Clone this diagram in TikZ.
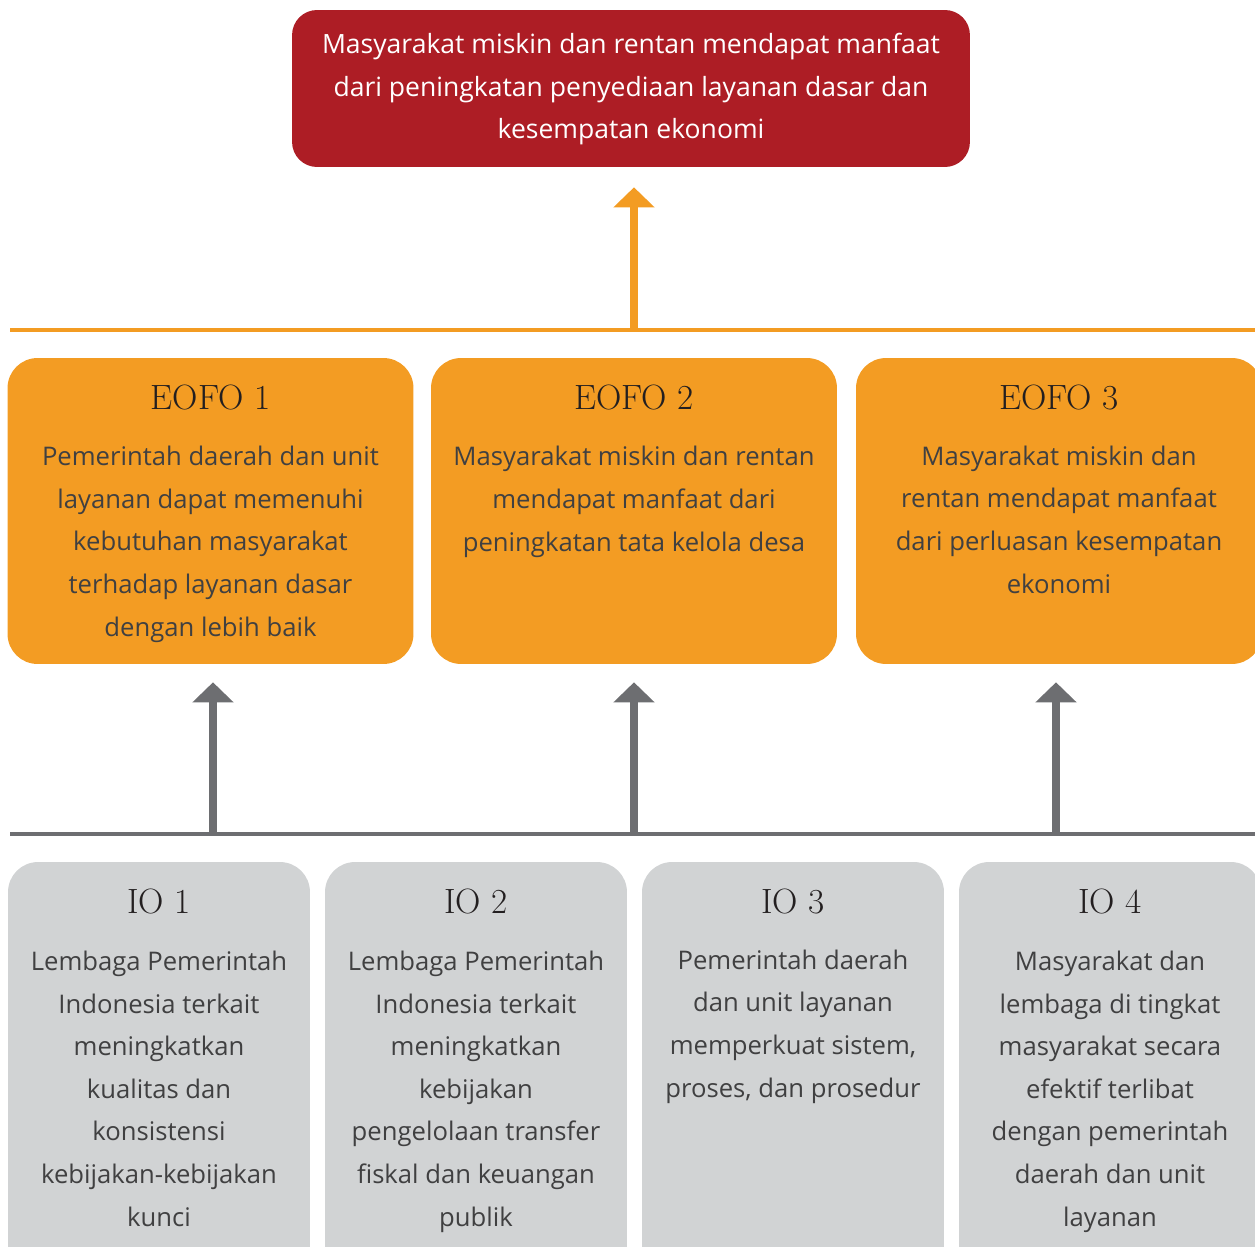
\documentclass[tikz,border=0pt]{standalone}
\usepackage{fontspec}
\setsansfont{Open Sans}
\usepackage{tikz}
\usetikzlibrary{arrows.meta}
\definecolor{goalred}{RGB}{173,29,37}
\definecolor{eofoorange}{RGB}{243,156,35}
\definecolor{iogrey}{RGB}{209,211,212}
\definecolor{arrowgrey}{RGB}{109,110,113}
\definecolor{bodytext}{RGB}{64,64,65}
\definecolor{titletext}{RGB}{35,31,32}

\begin{document}
\begin{tikzpicture}[x=0.02cm,y=-0.02cm]

%
% Styles
%
\tikzstyle{goalbox} = [rectangle,rounded corners=0.5cm,fill=goalred,minimum width=13.56cm,minimum height=3.14cm]
\tikzstyle{eofobox} = [rectangle,rounded corners=0.6cm,fill=eofoorange,minimum width=8.12cm,minimum height=6.12cm]
\tikzstyle{iobox}   = [rectangle,rounded corners=0.6cm,fill=iogrey,minimum width=6.04cm,minimum height=8.56cm]
\tikzstyle{boxtitle} = [anchor=base,color=titletext,font=\rmfamily\fontsize{20}{24}\selectfont]
\tikzstyle{boxtext}  = [anchor=base,align=center,color=bodytext,font=\sffamily\fontsize{14.6}{24.2}\selectfont]
\tikzstyle{goaltext} = [anchor=base,align=center,color=white,font=\sffamily\fontsize{15.1}{24.4}\selectfont]
\tikzstyle{oline} = [draw=eofoorange,line width=2.8pt]
\tikzstyle{gline} = [draw=arrowgrey,line width=2.8pt]
\tikzstyle{oedge} = [-{Triangle[width=0.8cm,length=0.4cm]},draw=eofoorange,fill=eofoorange,line width=4.5pt,shorten >=0.4cm]
\tikzstyle{gedge} = [-{Triangle[width=0.8cm,length=0.4cm]},draw=arrowgrey,fill=arrowgrey,line width=4.5pt,shorten >=0.36cm]

\useasboundingbox (0,0) rectangle (1255,1247);
\clip (0,0) rectangle (1255,1247);

% goal (text nodes sit on the baseline of their last line)
\node[goalbox] (goal) at (631,88.5) {};
\node[goaltext] (goaltxt) at (631,139) {Masyarakat miskin dan rentan mendapat manfaat\\dari peningkatan penyediaan layanan dasar dan\\kesempatan ekonomi};

% EOFO boxes
\node[eofobox] (eofo1) at (210.5,511) {};
\node[eofobox] (eofo2) at (634,511) {};
\node[eofobox] (eofo3) at (1059,511) {};

\node[boxtitle] (eofo1title) at (210.5,409) {EOFO 1};
\node[boxtitle] (eofo2title) at (634,409) {EOFO 2};
\node[boxtitle] (eofo3title) at (1059,409) {EOFO 3};

\node[boxtext] (eofo1txt) at (210.5,636) {Pemerintah daerah dan unit\\layanan dapat memenuhi\\kebutuhan masyarakat\\terhadap layanan dasar\\dengan lebih baik};
\node[boxtext] (eofo2txt) at (634,551) {Masyarakat miskin dan rentan\\mendapat manfaat dari\\peningkatan tata kelola desa};
\node[boxtext] (eofo3txt) at (1059,593) {Masyarakat miskin dan\\rentan mendapat manfaat\\dari perluasan kesempatan\\ekonomi};

% IO boxes
\node[iobox] (io1) at (159,1076) {};
\node[iobox] (io2) at (476,1076) {};
\node[iobox] (io3) at (793,1076) {};
\node[iobox] (io4) at (1110,1076) {};

\node[boxtitle] (io1title) at (159,913) {IO 1};
\node[boxtitle] (io2title) at (476,913) {IO 2};
\node[boxtitle] (io3title) at (793,913) {IO 3};
\node[boxtitle] (io4title) at (1110,913) {IO 4};

\node[boxtext] (io1txt) at (159,1226) {Lembaga Pemerintah\\Indonesia terkait\\meningkatkan\\kualitas dan\\konsistensi\\kebijakan-kebijakan\\kunci};
\node[boxtext] (io2txt) at (476,1226) {Lembaga Pemerintah\\Indonesia terkait\\meningkatkan\\kebijakan\\pengelolaan transfer\\fiskal dan keuangan\\publik};
\node[boxtext] (io3txt) at (793,1097) {Pemerintah daerah\\dan unit layanan\\memperkuat sistem,\\proses, dan prosedur};
\node[boxtext] (io4txt) at (1110,1226) {Masyarakat dan\\lembaga di tingkat\\masyarakat secara\\efektif terlibat\\dengan pemerintah\\daerah dan unit\\layanan};

% connector lines
\coordinate (owest) at (10,330);
\coordinate (oeast) at (1260,330);
\coordinate (obase) at (634,330);
\coordinate (gwest) at (10,834);
\coordinate (geast) at (1260,834);
\coordinate (gbase1) at (213,834);
\coordinate (gbase2) at (634,834);
\coordinate (gbase3) at (1056,834);

\draw[oline] (owest) -- (oeast);
\draw[gline] (gwest) -- (geast);

\draw[oedge] (obase) -- (obase |- goal.south);
\draw[gedge] (gbase1) -- (gbase1 |- eofo1.south);
\draw[gedge] (gbase2) -- (gbase2 |- eofo2.south);
\draw[gedge] (gbase3) -- (gbase3 |- eofo3.south);

\end{tikzpicture}
\end{document}
